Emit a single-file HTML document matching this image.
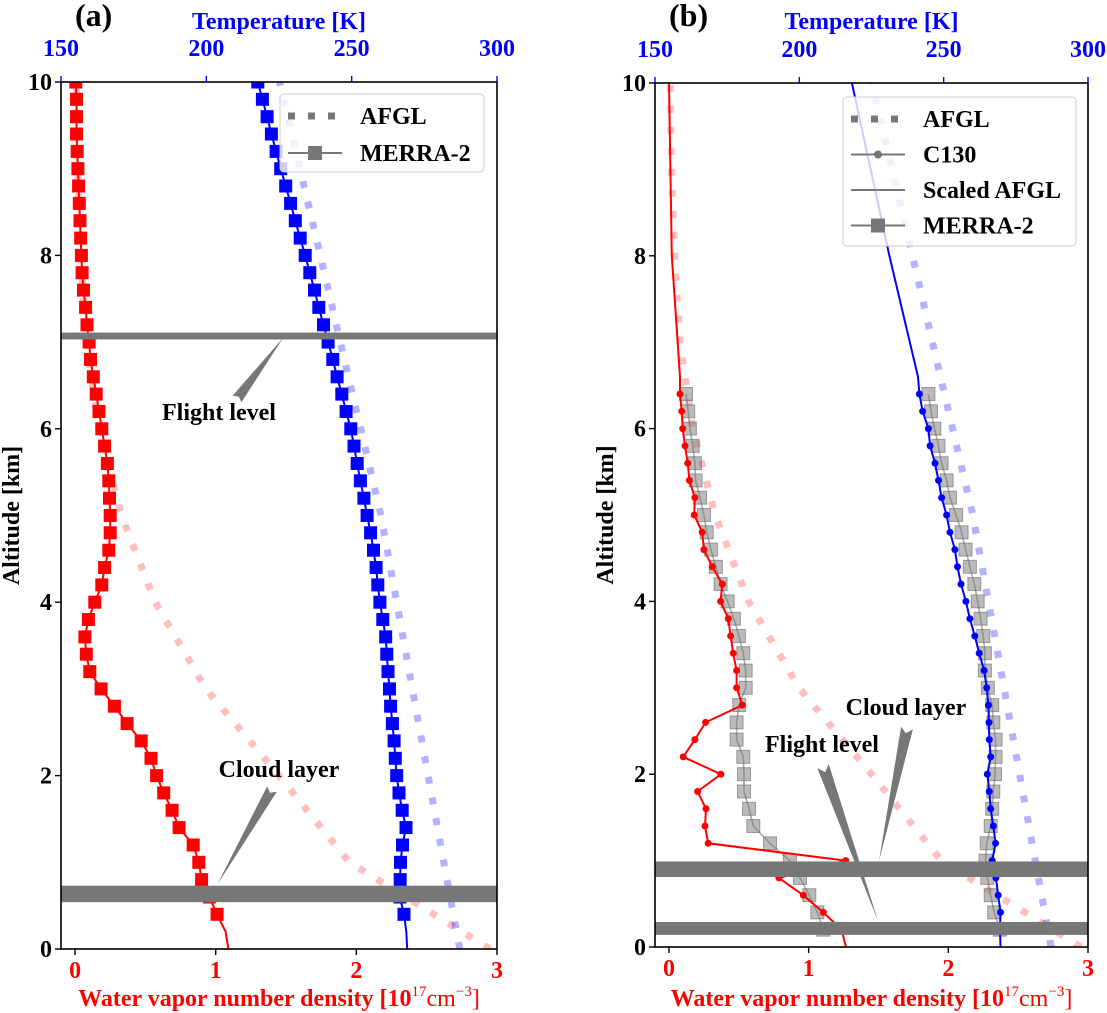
<!DOCTYPE html>
<html><head><meta charset="utf-8"><style>
html,body{margin:0;padding:0;background:#fff;}
svg{display:block;}
text{font-family:"Liberation Serif","Times New Roman",serif;font-weight:bold;}
</style></head><body>
<svg id="fig" width="1107" height="1013" viewBox="0 0 1107 1013" xmlns="http://www.w3.org/2000/svg" font-family="Liberation Serif, serif" font-weight="bold"></svg>
<script>
// ---------- data ----------
const afglAlt = [0,1,2,3,4,5,6,7,8,9,10];
const afglWv = [2.95,1.95,1.45,0.93,0.57,0.33,0.17,0.08,0.04,0.018,0.008];
const afglT = [287.2,281.7,276.3,270.9,265.5,260.1,253.1,246.1,239.2,232.2,225.2];

const merraAltA = [0.4,0.6,0.8,1.0,1.2,1.4,1.6,1.8,2.0,2.2,2.4,2.6,2.8,3.0,3.2,3.4,3.6,3.8,4.0,4.2,4.4,4.6,4.8,5.0,5.2,5.4,5.6,5.8,6.0,6.2,6.4,6.6,6.8,7.0,7.2,7.4,7.6,7.8,8.0,8.2,8.4,8.6,8.8,9.0,9.2,9.4,9.6,9.8,10.0];
const merraWvA = [1.01,0.955,0.90,0.88,0.84,0.74,0.69,0.63,0.58,0.54,0.47,0.37,0.28,0.185,0.105,0.08,0.07,0.095,0.14,0.19,0.21,0.24,0.25,0.25,0.245,0.24,0.23,0.21,0.19,0.17,0.15,0.13,0.11,0.10,0.085,0.075,0.06,0.05,0.045,0.04,0.035,0.03,0.025,0.02,0.015,0.01,0.01,0.01,0.005];
const merraTA = [268,266.6,266.7,266.8,267.5,268.7,267.4,266.3,265.5,265,264.6,264,263.4,263,262.5,262.1,261.7,260.7,259.7,259,258.4,257.5,256.5,255.3,254.2,253,251.9,250.8,249.7,248.1,246.6,245,243.5,241.9,240.3,238.7,237.2,235.6,234,232.3,230.6,229,227.3,225.6,224,222.4,220.9,219.3,217.7];
const merraSfcAltA = [0,0.2];
const merraSfcWvA = [1.09,1.07];
const merraSfcTA = [269.1,268.8];

const altB = [0.2,0.4,0.6,0.8,1.0,1.2,1.4,1.6,1.8,2.0,2.2,2.4,2.6,2.8,3.0,3.2,3.4,3.6,3.8,4.0,4.2,4.4,4.6,4.8,5.0,5.2,5.4,5.6,5.8,6.0,6.2,6.4];
const c130Wv = [1.236,1.105,0.962,0.787,1.265,0.281,0.258,0.265,0.205,0.372,0.102,0.186,0.262,0.525,0.484,0.484,0.46,0.441,0.425,0.37,0.382,0.31,0.25,0.238,0.181,0.186,0.146,0.134,0.115,0.098,0.091,0.079];
const c130T = [269.5,269.7,268.9,268.1,266.8,268,267.2,266.3,265.8,265.1,266.3,265.8,265.7,265.5,264.9,264,262.3,260.8,259.1,257.7,256,254.8,253.9,252.2,251,249.3,248.2,247,245.3,244.7,242.7,241.6];
const merraWvB = [1.105,1.062,1.005,0.938,0.866,0.723,0.604,0.573,0.537,0.537,0.532,0.484,0.484,0.503,0.549,0.549,0.532,0.501,0.465,0.42,0.37,0.336,0.3,0.27,0.25,0.222,0.191,0.186,0.17,0.15,0.138,0.122];
const merraTB = [269.5,267.5,266.3,265.1,264.5,264.9,266.3,266.8,267.2,267.8,268,268,267.2,266.8,265.3,264.3,264.3,263.7,262.8,261.8,260.6,259.1,257.6,256.2,254.3,252.2,251,249.3,248.2,246.8,245.6,244.7];
const scaledAlt = [6.6,8,10];
const scaledWv = [0.079,0.02,0.0];
const scaledT = [241.1,231.2,218.2];
const c130SfcWv = 1.267;
const c130SfcT = 269.7;

const wvTicks = [0,1,2,3];
const tTicks = [150,200,250,300];
const altTicks = [0,2,4,6,8,10];

// ---------- helpers ----------
const NS = "http://www.w3.org/2000/svg";
const fig = document.getElementById('fig');
function mk(tag, attrs, parent){
  const e = document.createElementNS(NS, tag);
  for (const k in attrs) e.setAttribute(k, attrs[k]);
  (parent||fig).appendChild(e);
  return e;
}
function makePanel(P){
  P.xw = v => P.L + (v - (-0.1)) / 3.1 * (P.R - P.L);
  P.xt = t => P.L + (t - 150) / 150 * (P.R - P.L);
  P.y = a => P.B - a / 10 * (P.B - P.T);
  return P;
}
function poly(xs, ys, P, fx, attrs, name){
  const pts = xs.map((v,i)=> fx(v).toFixed(1)+','+P.y(ys[i]).toFixed(1)).join(' ');
  const e = mk('polyline', Object.assign({points:pts, fill:'none'}, attrs), P.g);
  
  
  return e;
}
function squares(xs, ys, P, fx, size, attrs, name){
  const g = mk('g', {}, P.g);
  
  
  xs.forEach((v,i)=>{
    const r = mk('rect', Object.assign({x:(fx(v)-size/2).toFixed(1), y:(P.y(ys[i])-size/2).toFixed(1), width:size, height:size}, attrs), g);
    
    
  });
}
function dots(xs, ys, P, fx, r, color, name){
  const g = mk('g', {}, P.g);
  
  
  xs.forEach((v,i)=>{
    const c = mk('circle', {cx:fx(v).toFixed(1), cy:P.y(ys[i]).toFixed(1), r:r, fill:color}, g);
    
    
  });
}
function text(str, x, y, attrs, parent, name){
  const t = mk('text', Object.assign({x:x, y:y, 'font-family':'Liberation Serif, serif', 'font-weight':'bold'}, attrs), parent);
  t.textContent = str;
  
  
  return t;
}
function band(P, a0, a1, name){
  const r = mk('rect', {x:P.L, y:P.y(a1), width:P.R-P.L, height:P.y(a0)-P.y(a1), fill:'#777'}, P.g);
  
  
}
function wedge(x0,y0,x1,y1,w,name,parent){
  const dx=x1-x0, dy=y1-y0, L=Math.hypot(dx,dy), nx=-dy/L, ny=dx/L;
  const p = [[x0+nx*w/2,y0+ny*w/2],[x1,y1],[x0-nx*w/2,y0-ny*w/2],[x0+dx*0.04,y0+dy*0.04]];
  const e = mk('polygon',{points:p.map(q=>q[0].toFixed(1)+','+q[1].toFixed(1)).join(' '), fill:'#777'}, parent);
  
  
}
function axes(P, label){
  const g = P.g;
  const f = mk('rect',{x:P.L,y:P.T,width:P.R-P.L,height:P.B-P.T,fill:'none',stroke:'#000','stroke-width':1.6}, g);
  
  
  altTicks.forEach(a=>{
    mk('line',{x1:P.L-6,x2:P.L,y1:P.y(a),y2:P.y(a),stroke:'#000','stroke-width':1.4}, g);
    text(String(a), P.L-9, P.y(a)+8, {'font-size':24,'text-anchor':'end',fill:'#000'}, g, 'y-tick-label');
  });
  wvTicks.forEach(v=>{
    mk('line',{x1:P.xw(v),x2:P.xw(v),y1:P.B,y2:P.B+6,stroke:'#000','stroke-width':1.4}, g);
    text(String(v), P.xw(v), P.B+29, {'font-size':24,'text-anchor':'middle',fill:'#f00'}, g, 'x-bottom-tick-label');
  });
  tTicks.forEach(t=>{
    mk('line',{x1:P.xt(t),x2:P.xt(t),y1:P.T-6,y2:P.T,stroke:'#00f','stroke-width':1.4}, g);
    text(String(t), P.xt(t), P.T-26, {'font-size':24,'text-anchor':'middle',fill:'#00f'}, g, 'x-top-tick-label');
  });
  text('Temperature [K]', (P.L+P.R)/2, 29, {'font-size':24,'text-anchor':'middle',fill:'#00f'}, g, 'x-top-axis-title');
  const xl = text('', (P.L+P.R)/2, 1006, {'font-size':24,'text-anchor':'middle',fill:'#f00'}, g, 'x-bottom-axis-title');
  xl.innerHTML = 'Water vapor number density [10<tspan dy="-10" font-size="15" font-weight="normal">17</tspan><tspan dy="10" font-weight="normal">cm</tspan><tspan dy="-10" font-size="15" font-weight="normal">−3</tspan><tspan dy="10" font-weight="normal">]</tspan>';
  text('Altitude [km]', 0, 0, {'font-size':24,'text-anchor':'middle',fill:'#000',transform:'translate('+(P.L-42)+','+((P.T+P.B)/2)+') rotate(-90)'}, g, 'y-axis-title');
  text(label, P.L+14, 26, {'font-size':32,fill:'#000'}, g, 'panel-label');
}
function legend(P, x, y, w, h, items){
  const g = mk('g',{}, P.g);
  
  
  mk('rect',{x:x,y:y,width:w,height:h,rx:4,fill:'#fff','fill-opacity':0.8,stroke:'#ccc','stroke-width':1}, g);
  items.forEach((it,i)=>{
    const yy = y + 22 + i*it.step;
    const e = mk('g',{}, g);
    
    
    if (it.kind==='dot') mk('line',{x1:x+8,x2:x+62,y1:yy,y2:yy,stroke:'#777','stroke-width':7,'stroke-dasharray':'7 13'}, e);
    else mk('line',{x1:x+8,x2:x+62,y1:yy,y2:yy,stroke:'#777','stroke-width':2}, e);
    if (it.kind==='sq') mk('rect',{x:x+35-7,y:yy-7,width:14,height:14,fill:'#777'}, e);
    if (it.kind==='circ') mk('circle',{cx:x+35,cy:yy,r:4,fill:'#777'}, e);
    text(it.label, x+80, yy+8, {'font-size':24,fill:'#000'}, e, 'legend-label');
  });
}

// ---------- panel a ----------
const A = makePanel({L:61,R:497,T:82,B:949});
A.g = mk('g',{});  
const clipA = mk('clipPath',{id:'clipA'}); mk('rect',{x:A.L,y:A.T,width:A.R-A.L,height:A.B-A.T}, clipA);
const AP = mk('g',{'clip-path':'url(#clipA)'}, A.g); const AG = A.g; A.g = AP;
poly(afglWv, afglAlt, A, A.xw, {stroke:'#f00','stroke-opacity':0.25,'stroke-width':7,'stroke-dasharray':'7 14'}, 'afgl-water-vapor-line');
poly(afglT, afglAlt, A, A.xt, {stroke:'#00f','stroke-opacity':0.3,'stroke-width':7,'stroke-dasharray':'7 14'}, 'afgl-temperature-line');
poly(merraSfcWvA.concat(merraWvA), merraSfcAltA.concat(merraAltA), A, A.xw, {stroke:'#f00','stroke-width':2}, 'merra2-water-vapor-line');
poly(merraSfcTA.concat(merraTA), merraSfcAltA.concat(merraAltA), A, A.xt, {stroke:'#00f','stroke-width':2}, 'merra2-temperature-line');
squares(merraWvA, merraAltA, A, A.xw, 13, {fill:'#f00'}, 'merra2-water-vapor-markers');
squares(merraTA, merraAltA, A, A.xt, 13, {fill:'#00f'}, 'merra2-temperature-markers');
band(A, 7.03, 7.11, 'flight-level-line');
band(A, 0.54, 0.73, 'cloud-layer-band');
A.g = AG;
axes(A, '(a)');
legend(A, 280, 94, 204, 78, [{kind:'dot',label:'AFGL',step:0},{kind:'sq',label:'MERRA-2',step:37}]);
wedge(237,399,283,338,11,'flight-level-arrow',A.g);
text('Flight level', 219, 420, {'font-size':24,'text-anchor':'middle',fill:'#000'}, A.g, 'flight-level-annotation');
wedge(272,789,217,885,11,'cloud-layer-arrow',A.g);
text('Cloud layer', 279, 777, {'font-size':24,'text-anchor':'middle',fill:'#000'}, A.g, 'cloud-layer-annotation');

// ---------- panel b ----------
const B = makePanel({L:655,R:1088,T:83,B:947});
B.g = mk('g',{});  
const clipB = mk('clipPath',{id:'clipB'}); mk('rect',{x:B.L,y:B.T,width:B.R-B.L,height:B.B-B.T}, clipB);
const BP = mk('g',{'clip-path':'url(#clipB)'}, B.g); const BG = B.g; B.g = BP;
poly(afglWv, afglAlt, B, B.xw, {stroke:'#f00','stroke-opacity':0.25,'stroke-width':7,'stroke-dasharray':'7 14'}, 'afgl-water-vapor-line');
poly(afglT, afglAlt, B, B.xt, {stroke:'#00f','stroke-opacity':0.3,'stroke-width':7,'stroke-dasharray':'7 14'}, 'afgl-temperature-line');
poly(merraWvB, altB, B, B.xw, {stroke:'#777','stroke-opacity':0.6,'stroke-width':1.6}, 'merra2-water-vapor-line');
poly(merraTB, altB, B, B.xt, {stroke:'#777','stroke-opacity':0.6,'stroke-width':1.6}, 'merra2-temperature-line');
squares(merraWvB, altB, B, B.xw, 13, {fill:'#777','fill-opacity':0.5,stroke:'#555','stroke-opacity':0.5,'stroke-width':1}, 'merra2-water-vapor-markers');
squares(merraTB, altB, B, B.xt, 13, {fill:'#777','fill-opacity':0.5,stroke:'#555','stroke-opacity':0.5,'stroke-width':1}, 'merra2-temperature-markers');
poly([c130SfcWv].concat(c130Wv, scaledWv), [0].concat(altB, scaledAlt), B, B.xw, {stroke:'#f00','stroke-width':2}, 'c130-water-vapor-line');
poly([c130SfcT].concat(c130T, scaledT), [0].concat(altB, scaledAlt), B, B.xt, {stroke:'#00f','stroke-width':2}, 'c130-temperature-line');
dots(c130Wv, altB, B, B.xw, 3.5, '#f00', 'c130-water-vapor-points');
dots(c130T, altB, B, B.xt, 3.5, '#00f', 'c130-temperature-points');
band(B, 0.81, 0.99, 'cloud-layer-band');
band(B, 0.14, 0.29, 'flight-level-band');
B.g = BG;
axes(B, '(b)');
legend(B, 843, 97, 233, 149, [{kind:'dot',label:'AFGL',step:35.5},{kind:'circ',label:'C130',step:35.5},{kind:'line',label:'Scaled AFGL',step:35.5},{kind:'sq',label:'MERRA-2',step:35.5}]);
wedge(907,728,879,861,12,'cloud-layer-arrow',B.g);
text('Cloud layer', 906, 715, {'font-size':24,'text-anchor':'middle',fill:'#000'}, B.g, 'cloud-layer-annotation');
wedge(823,766,878,921,12,'flight-level-arrow',B.g);
text('Flight level', 822, 752, {'font-size':24,'text-anchor':'middle',fill:'#000'}, B.g, 'flight-level-annotation');
</script>
</body></html>
